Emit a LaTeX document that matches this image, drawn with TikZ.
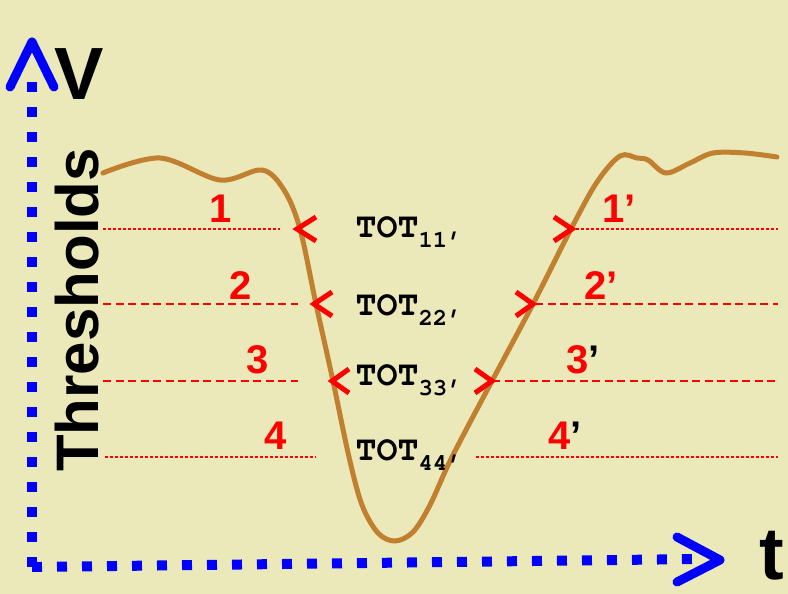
\documentclass[tikz,border=0pt]{standalone}
\usepackage{fontspec}
\setmainfont{Liberation Sans}
\newfontfamily\totfont{texgyrecursor}[Extension=.otf, UprightFont=*-regular, BoldFont=*-bold]
\usetikzlibrary{math,calc}

\definecolor{paper}{RGB}{235,233,186}
\definecolor{signal}{RGB}{192,128,48}

\newcommand{\totsub}[1]{\totfont\bfseries TOT\raisebox{-10pt}{\fontsize{24}{24}\selectfont #1}}

\tikzset{
	axis/.style={blue, line width=10pt, dash pattern=on 10pt off 15pt},
	axis head/.style={blue, line width=9pt, line cap=round, line join=round},
	thr dotted/.style={red, line width=2.5pt, dash pattern=on 2.5pt off 2.5pt},
	thr dashed/.style={red, line width=2.5pt, dash pattern=on 8pt off 4.5pt},
	crossing/.style={red, line width=5pt},
	num/.style={red, font=\fontsize{40}{40}\selectfont\bfseries},
	axis label/.style={font=\fontsize{74}{74}\selectfont\bfseries},
	tot/.style={anchor=base west, font=\fontsize{35}{35}\selectfont},
}

\begin{document}
\begin{tikzpicture}[x=1pt, y=-1pt]

	\tikzmath{
		\yA = 229 ;
		\yB = 304 ;
		\yC = 381 ;
		\yD = 457 ;
		\xend = 778 ;
	}

	\fill[paper] (0,0) rectangle (788,594);
	\useasboundingbox (0,0) rectangle (788,594);

	% axes
	\coordinate (O) at (32,567);
	\coordinate (vtop) at (32,72);
	\coordinate (vtip) at (32,42);
	\coordinate (hend) at (700,559);
	\coordinate (htip) at (720,560);

	\draw[axis] (O) -- (vtop);
	\draw[axis] (O) -- (hend);
	\draw[axis head] ($(vtip)+(-22,45)$) -- (vtip) -- ($(vtip)+(22,45)$);
	\draw[axis head] ($(htip)+(-43,-23)$) -- (htip) -- ($(htip)+(-43,22)$);

	\node[axis label] (V) at (79,74) {V};
	\node[axis label] (t) at (772,556) {t};
	\node[font=\fontsize{60}{60}\selectfont\bfseries, rotate=90] (thr) at (77,310) {Thresholds};

	% crossings of the pulse with the thresholds
	\coordinate (l1) at (300,\yA);
	\coordinate (l2) at (316,\yB);
	\coordinate (l3) at (333,\yC);
	\coordinate (l4) at (349,\yD);
	\coordinate (r1) at (571,\yA);
	\coordinate (r2) at (533,\yB);
	\coordinate (r3) at (492,\yC);
	\coordinate (r4) at (452,\yD);

	% thresholds
	\draw[thr dotted] (103,\yA) -- (280,\yA);
	\draw[thr dashed] (103,\yB) -- (298,\yB);
	\draw[thr dashed] (103,\yC) -- (298,\yC);
	\draw[thr dotted] (105,\yD) -- (316,\yD);
	\draw[thr dotted] (r1) -- (\xend,\yA);
	\draw[thr dashed] (535,\yB) -- (\xend,\yB);
	\draw[thr dashed] (r3) -- (\xend,\yC);
	\draw[thr dotted] (476,\yD) -- (\xend,\yD);

	% pulse
	\draw[signal, line width=5pt, line cap=round] plot[smooth, tension=0.55] coordinates {
		(103,173) (160,158) (220,180) (262,170) (284,190)
		(l1) (l2) (l3) (l4) (362,505) (378,533) (395,541) (413,532) (430,505)
		(r4) (r3) (r2) (r1) (597,182) (620,156) (637,158) (648,160)
		(666,173) (690,163) (713,153) (745,153) (777,157)};

	\draw[crossing] ($(l1)+(16,-12)$) -- ($(l1)+(-3,0)$) -- ($(l1)+(16,12)$);
	\draw[crossing] ($(l2)+(16,-12)$) -- ($(l2)+(-2,0)$) -- ($(l2)+(16,12)$);
	\draw[crossing] ($(l3)+(16,-12)$) -- ($(l3)+(-1,0)$) -- ($(l3)+(16,12)$);
	\draw[crossing] ($(r1)+(-17,-12)$) -- ($(r1)+(1,0)$) -- ($(r1)+(-17,12)$);
	\draw[crossing] ($(r2)+(-17,-12)$) -- ($(r2)+(0,0)$) -- ($(r2)+(-17,12)$);
	\draw[crossing] ($(r3)+(-17,-12)$) -- ($(r3)+(0,0)$) -- ($(r3)+(-17,12)$);

	\node[num] (n1) at (221,209) {1};
	\node[num] (n2) at (241,286) {2};
	\node[num] (n3) at (258,360) {3};
	\node[num] (n4) at (276,436) {4};
	\node[num] (m1) at (619,209) {1’};
	\node[num] (m2) at (601,286) {2’};
	\node[num] (m3) at (583,360) {3\textcolor{black}{’}};
	\node[num] (m4) at (565,436) {4\textcolor{black}{’}};

	\node[tot] (tot1) at (352,237) {\totsub{11’}};
	\node[tot] (tot2) at (352,315) {\totsub{22’}};
	\node[tot] (tot3) at (352,385) {\totsub{33’}};
	\node[tot] (tot4) at (352,460) {\totsub{44’}};

\end{tikzpicture}
\end{document}
